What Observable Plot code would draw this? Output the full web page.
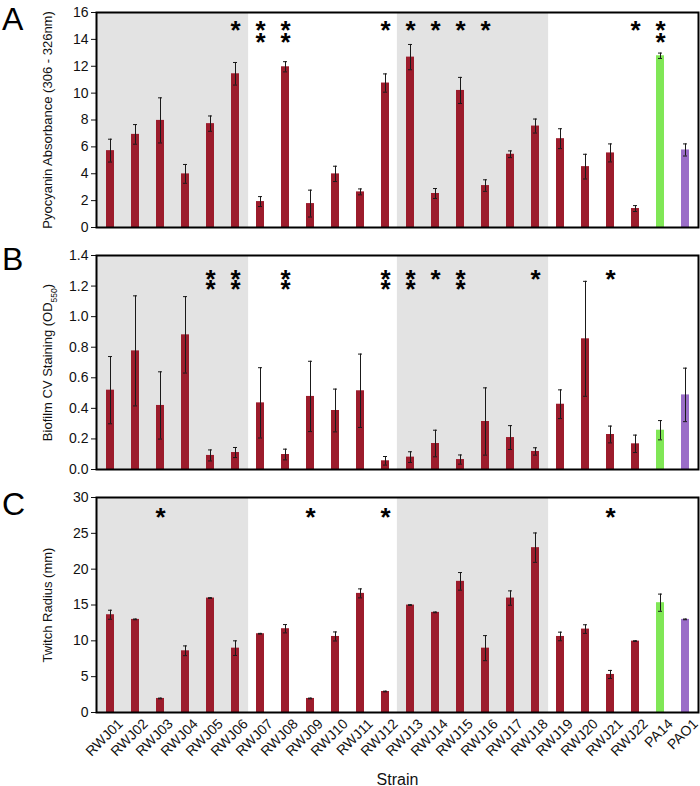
<!DOCTYPE html>
<html>
<head>
<meta charset="utf-8">
<script src="https://cdn.jsdelivr.net/npm/d3@7"></script>
<script src="https://cdn.jsdelivr.net/npm/@observablehq/plot@0.6"></script>
<style>
  body { margin: 0; background: #fff; }
  #wrap { position: relative; width: 700px; height: 786px; font-family: "Liberation Sans", Arial, sans-serif; overflow: hidden; }
  .panel { position: absolute; left: 0; }
  .letter { position: absolute; left: 2px; font-size: 32px; line-height: 1; color: #000; font-family: "Liberation Sans", Arial, sans-serif; }
</style>
</head>
<body>
<div id="wrap"></div>
<script>
// ---------- data ----------
const strains = ["RWJ01","RWJ02","RWJ03","RWJ04","RWJ05","RWJ06","RWJ07","RWJ08","RWJ09","RWJ10","RWJ11","RWJ12",
                 "RWJ13","RWJ14","RWJ15","RWJ16","RWJ17","RWJ18","RWJ19","RWJ20","RWJ21","RWJ22","PA14","PAO1"];
const shaded = ["RWJ01","RWJ02","RWJ03","RWJ04","RWJ05","RWJ06","RWJ13","RWJ14","RWJ15","RWJ16","RWJ17","RWJ18"];

// Panel A: pyocyanin absorbance
const pyoMean = [5.72, 6.93, 7.97, 3.99, 7.73, 11.44, 1.93, 11.96, 1.78, 3.99, 2.65, 10.75,
                 12.68, 2.53, 10.20, 3.12, 5.45, 7.55, 6.61, 4.53, 5.55, 1.41, 12.78, 5.77];
const pyoErr  = [0.85, 0.73, 1.68, 0.70, 0.57, 0.84, 0.37, 0.38, 1.00, 0.57, 0.22, 0.68,
                 0.94, 0.37, 0.97, 0.43, 0.25, 0.52, 0.74, 0.92, 0.67, 0.22, 0.20, 0.45];
const pyoStars = [0,0,0,0,0,1,2,2,0,0,0,1, 1,1,1,1,0,0,0,0,0,1,2,0];

// Panel B: biofilm CV staining
const bioMean = [0.519, 0.776, 0.419, 0.881, 0.092, 0.111, 0.436, 0.098, 0.478, 0.386, 0.515, 0.057,
                 0.081, 0.170, 0.065, 0.314, 0.209, 0.118, 0.427, 0.855, 0.229, 0.168, 0.257, 0.488];
const bioErr  = [0.220, 0.360, 0.220, 0.250, 0.036, 0.033, 0.230, 0.035, 0.230, 0.140, 0.240, 0.028,
                 0.035, 0.087, 0.030, 0.220, 0.078, 0.024, 0.094, 0.376, 0.055, 0.057, 0.063, 0.175];
const bioStars = [0,0,0,0,2,2,0,2,0,0,0,2, 2,1,2,0,0,1,0,0,1,0,0,0];

// Panel C: twitch radius (mm)
const twMean = [13.64, 12.99, 1.96, 8.61, 15.97, 8.98, 10.99, 11.69, 1.96, 10.61, 16.62, 2.93,
                14.99, 13.97, 18.30, 8.98, 15.97, 23.00, 10.61, 11.64, 5.31, 9.96, 15.32, 12.99];
const twErr  = [0.63, 0.05, 0.05, 0.68, 0.05, 1.02, 0.05, 0.58, 0.05, 0.63, 0.63, 0.05,
                0.05, 0.05, 1.23, 1.75, 1.00, 2.05, 0.60, 0.60, 0.56, 0.05, 1.20, 0.05];
const twStars = [0,0,1,0,0,0,0,0,1,0,0,1, 0,0,0,0,0,0,0,0,1,0,0,0];

const strainColor = {PA14: "#80e756", PAO1: "#9a6dc8"};
const defaultColor = "#9c1c2c";

// ---------- layout ----------
const W = 700, ML = 96, MR = 2;
const padInner = 0.68;
const step = (W - ML - MR) / strains.length;
const bandInset = -(step * padInner) / 2 - 0.6;
const font = '"Liberation Sans", Arial, sans-serif';

function panel({mean, err, stars, yMax, ticks, fmt, label, top, height, mt, mb, starY, starLH, showX}) {
  const rows = strains.map((s, i) => ({strain: s, v: mean[i], lo: mean[i] - err[i], hi: mean[i] + err[i], n: stars[i],
                                       c: strainColor[s] || defaultColor}));
  const shadeRows = shaded.map(s => ({strain: s}));
  const marks = [
    Plot.barY(shadeRows, {x: "strain", y: () => yMax, fill: "#e3e3e3", insetLeft: bandInset, insetRight: bandInset}),
    Plot.barY(rows, {x: "strain", y: "v", fill: "c"}),
    Plot.ruleX(rows, {x: "strain", y1: "lo", y2: "hi", stroke: "#1a1a1a", strokeWidth: 1}),
    Plot.tickY(rows, {x: "strain", y: "lo", stroke: "#1a1a1a", strokeWidth: 1, insetLeft: 2, insetRight: 2}),
    Plot.tickY(rows, {x: "strain", y: "hi", stroke: "#1a1a1a", strokeWidth: 1, insetLeft: 2, insetRight: 2}),
    Plot.text(rows.filter(d => d.n >= 1), {x: "strain", y: () => starY, text: d => d.n === 2 ? "*\n*" : "*",
      fontSize: 26, fontWeight: "bold", lineAnchor: "top", lineHeight: starLH, fill: "#000"}),
    Plot.axisY({ticks, tickFormat: fmt, tickSize: 5, tickPadding: 3, label, labelAnchor: "center", labelArrow: "none", labelOffset: 54}),
    Plot.frame({stroke: "#000", strokeWidth: 2})
  ];
  if (showX) {
    marks.push(Plot.axisX({tickRotate: -45, tickSize: 0, tickPadding: 6, fontSize: 14, dx: 10, dy: 3,
      label: "Strain", labelAnchor: "center", labelArrow: "none", labelOffset: 72}));
  }
  const p = Plot.plot({
    width: W, height, marginLeft: ML, marginRight: MR, marginTop: mt, marginBottom: mb,
    style: {fontSize: "14px", fontFamily: font, color: "#111", background: "transparent", overflow: "visible"},
    x: {domain: strains, paddingInner: padInner, paddingOuter: padInner / 2, axis: null},
    y: {domain: [0, yMax], axis: null},
    color: {type: "identity"},
    marks
  });
  const div = document.createElement("div");
  div.className = "panel";
  div.style.top = top + "px";
  div.appendChild(p);
  document.getElementById("wrap").appendChild(div);
  return p;
}

const pA = panel({mean: pyoMean, err: pyoErr, stars: pyoStars, yMax: 16, ticks: d3.range(0, 17, 2), fmt: d3.format("d"),
  label: "Pyocyanin Absorbance (306 - 326nm)", top: 0, height: 240, mt: 12, mb: 13, starY: 14.7, starLH: 0.48});
const pB = panel({mean: bioMean, err: bioErr, stars: bioStars, yMax: 1.4, ticks: d3.range(0, 1.41, 0.2), fmt: d3.format(".1f"),
  label: "Biofilm CV Staining (OD550)", top: 240, height: 240, mt: 15, mb: 11, starY: 1.236, starLH: 0.4});
const pC = panel({mean: twMean, err: twErr, stars: twStars, yMax: 30, ticks: d3.range(0, 31, 5), fmt: d3.format("d"),
  label: "Twitch Radius (mm)", top: 480, height: 306, mt: 17, mb: 74, starY: 27.3, starLH: 0.5, showX: true});

// axis label styling
for (const p of [pA, pB, pC]) {
  d3.select(p).selectAll('[aria-label="y-axis label"] text').style("font-size", "13px");
}
d3.select(pC).selectAll('[aria-label="x-axis label"] text').style("font-size", "16px");
// subscript in OD550
d3.select(pB).selectAll('[aria-label="y-axis label"] text').each(function () {
  const t = d3.select(this);
  t.text("");
  t.append("tspan").text("Biofilm CV Staining (OD");
  t.append("tspan").text("550").attr("baseline-shift", "sub").attr("fill", "#111").style("font-size", "8.5px");
  t.append("tspan").text(")");
});

// panel letters
[["A", 3], ["B", 243], ["C", 488]].forEach(([t, y]) => {
  const el = document.createElement("div");
  el.className = "letter";
  el.textContent = t;
  el.style.top = y + "px";
  document.getElementById("wrap").appendChild(el);
});
</script>
</body>
</html>
